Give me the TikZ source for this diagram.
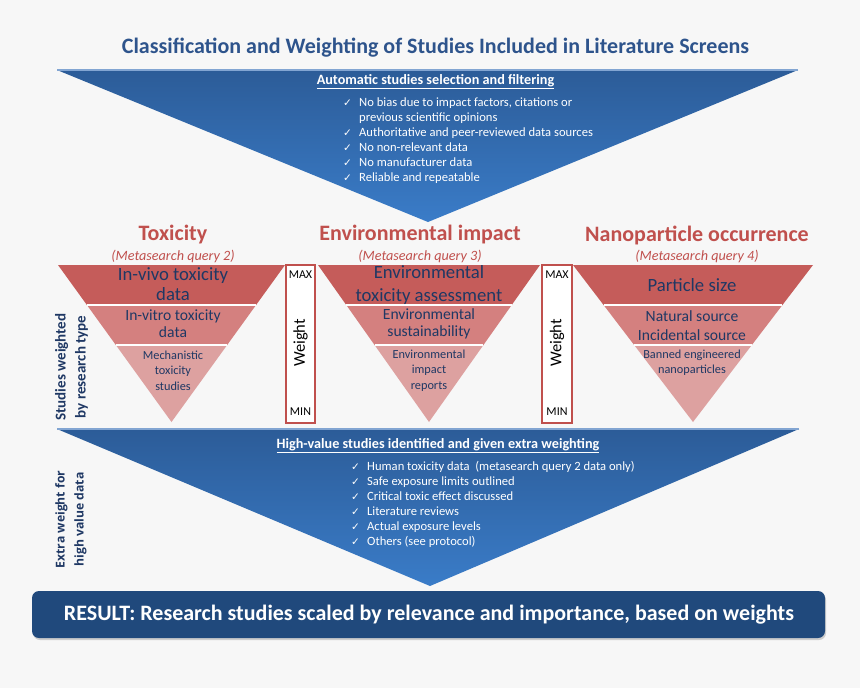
\documentclass[tikz,border=0pt]{standalone}
\usepackage{fontspec}
\setmainfont{Carlito}
\newfontfamily\chkfont{DejaVu Sans}
\newfontfamily\osfont{Open Sans}
\usetikzlibrary{calc,shadows}

\definecolor{bgc}{RGB}{247,247,247}
\definecolor{titleblue}{RGB}{46,84,140}
\definecolor{darkblue}{RGB}{31,56,100}
\definecolor{redhead}{RGB}{192,80,77}
\definecolor{bandA}{RGB}{197,92,90}
\definecolor{bandB}{RGB}{212,128,127}
\definecolor{bandC}{RGB}{221,161,160}
\definecolor{triTop}{RGB}{44,92,152}
\definecolor{triBot}{RGB}{58,124,200}
\definecolor{triEdge}{RGB}{130,165,210}
\definecolor{resultblue}{RGB}{32,73,124}

\newcommand{\ck}{\makebox[16pt][l]{\chkfont\fontsize{10.5}{15}\selectfont ✓}}

\tikzset{
  titlestyle/.style={inner sep=0, text=titleblue, font=\bfseries\fontsize{22}{24}\selectfont},
  headstyle/.style={inner sep=0, text=white, font=\bfseries\fontsize{14.2}{16}\selectfont},
  bulletstyle/.style={inner sep=0, text=white, align=left, font=\fontsize{12.6}{15}\selectfont},
  cathead/.style={inner sep=0, text=redhead, font=\bfseries\fontsize{22}{24}\selectfont},
  catsub/.style={inner sep=0, text=redhead, font=\itshape\fontsize{14.2}{16}\selectfont},
  bandtxtA/.style={inner sep=0, text=darkblue, align=center, font=\fontsize{18.7}{20}\selectfont},
  bandtxtB/.style={inner sep=0, text=darkblue, align=center, font=\fontsize{15.6}{17}\selectfont},
  bandtxtC/.style={inner sep=0, text=darkblue, align=center, font=\fontsize{12.3}{15.5}\selectfont},
  weightbox/.style={draw=redhead, line width=1.2pt, fill=white},
  weightsmall/.style={inner sep=0, text=black, font=\fontsize{12}{13}\selectfont},
  weightbig/.style={inner sep=0, text=black, rotate=90, font=\fontsize{16.5}{17}\selectfont},
  sidelabel/.style={inner sep=0, text=darkblue, rotate=90, align=center, font=\bfseries\fontsize{15}{20}\selectfont},
  sidelabelB/.style={inner sep=0, text=darkblue, rotate=90, align=center, font=\osfont\bfseries\fontsize{12.2}{19}\selectfont},
  resultbox/.style={fill=resultblue, rounded corners=7pt, drop shadow={opacity=0.35, shadow xshift=1pt, shadow yshift=-2pt}},
  resulttxt/.style={inner sep=0, text=white, font=\bfseries\fontsize{22}{24}\selectfont},
  sepline/.style={white, line width=1.2pt}
}

\newcommand{\bandtri}[3]{%
  \coordinate (#1L) at (#2);
  \coordinate (#1R) at ($(#2)+(#3,0)$);
  \path (#1L) -- (#1R) coordinate[pos=0.5] (#1M);
  \coordinate (#1A) at ($(#1M)+(0,157)$);
  \coordinate (#1a) at ($(#1L)!0.255!(#1A)$);
  \coordinate (#1b) at ($(#1R)!0.255!(#1A)$);
  \coordinate (#1c) at ($(#1L)!0.51!(#1A)$);
  \coordinate (#1d) at ($(#1R)!0.51!(#1A)$);
  \fill[bandA] (#1L) -- (#1R) -- (#1b) -- (#1a) -- cycle;
  \fill[bandB] (#1a) -- (#1b) -- (#1d) -- (#1c) -- cycle;
  \fill[bandC] (#1c) -- (#1d) -- (#1A) -- cycle;
  \draw[sepline] (#1a) -- (#1b);
  \draw[sepline] (#1c) -- (#1d);
}

\begin{document}
\begin{tikzpicture}[x=1pt,y=-1pt]
\fill[bgc] (0,0) rectangle (860,688);
\useasboundingbox (0,0) rectangle (860,688);

% title
\node[titlestyle] (title) at (435.5,48) {Classification and Weighting of Studies Included in Literature Screens};

% top triangle
\coordinate (t1) at (57,70);
\coordinate (t2) at (798,70);
\coordinate (t3) at (428,222);
\shade[top color=triTop, bottom color=triBot] (t1) -- (t2) -- (t3) -- cycle;
\draw[triEdge, line width=1.2pt] (t1) -- (t2);

\node[headstyle] (tophead) at (435.5,82) {\underline{Automatic studies selection and filtering}};
\node[bulletstyle, anchor=north west] (topbul) at (343,96) {%
\strut\ck No bias due to impact factors, citations or\\
\hspace*{16pt}previous scientific opinions\\
\ck Authoritative and peer-reviewed data sources\\
\ck No non-relevant data\\
\ck No manufacturer data\\
\ck Reliable and repeatable};

% category headers
\node[cathead] (h1) at (173,235) {Toxicity};
\node[catsub] (s1) at (173,256) {(Metasearch query 2)};
\node[cathead] (h2) at (420,235) {Environmental impact};
\node[catsub] (s2) at (420,256) {(Metasearch query 3)};
\node[cathead] (h3) at (697,235) {Nanoparticle occurrence};
\node[catsub] (s3) at (697,256) {(Metasearch query 4)};

% band triangles
\bandtri{X}{58,265}{227}
\bandtri{Y}{318,265}{222}
\bandtri{Z}{573,265}{240}

\node[bandtxtA] (x1) at (173,284.5) {In-vivo toxicity\\data};
\node[bandtxtB] (x2) at (173,324) {In-vitro toxicity\\data};
\node[bandtxtC] (x3) at (173,370.5) {Mechanistic\\toxicity\\studies};

\node[bandtxtA, font=\fontsize{18.7}{23}\selectfont] (y1) at (429,285.5) {Environmental\\toxicity assessment};
\node[bandtxtB] (y2) at (429,324) {Environmental\\sustainability};
\node[bandtxtC] (y3) at (429,370.5) {Environmental\\impact\\reports};

\node[bandtxtA] (z1) at (692,285) {Particle size};
\node[bandtxtB, font=\fontsize{15.6}{19}\selectfont] (z2) at (692,325.5) {Natural source\\Incidental source};
\node[bandtxtC] (z3) at (692,362.5) {Banned engineered\\nanoparticles};

% weight boxes
\draw[weightbox] (286,265) rectangle (315,423);
\node[weightsmall] (max1) at (300.5,275) {MAX};
\node[weightsmall] (min1) at (300.5,412) {MIN};
\node[weightbig] (w1) at (300.5,343) {Weight};
\draw[weightbox] (542,265) rectangle (572,423);
\node[weightsmall] (max2) at (557,275) {MAX};
\node[weightsmall] (min2) at (557,412) {MIN};
\node[weightbig] (w2) at (557,343) {Weight};

% side labels
\node[sidelabel] (side1) at (71.5,367) {Studies weighted\\by research type};
\node[sidelabelB] (side2) at (71,519.5) {Extra weight for\\high value data};

% bottom triangle
\coordinate (b1) at (57,429);
\coordinate (b2) at (799,429);
\coordinate (b3) at (430,586);
\shade[top color=triTop, bottom color=triBot] (b1) -- (b2) -- (b3) -- cycle;
\draw[triEdge, line width=1.2pt] (b1) -- (b2);

\node[headstyle] (bothead) at (438,446) {\underline{High-value studies identified and given extra weighting}};
\node[bulletstyle, anchor=north west] (botbul) at (351,460) {%
\strut\ck Human toxicity data\ \ (metasearch query 2 data only)\\
\ck Safe exposure limits outlined\\
\ck Critical toxic effect discussed\\
\ck Literature reviews\\
\ck Actual exposure levels\\
\ck Others (see protocol)};

% result
\path[resultbox] (32,591) rectangle (825,638);
\node[resulttxt] (result) at (429,615) {RESULT: Research studies scaled by relevance and importance, based on weights};
\end{tikzpicture}
\end{document}
